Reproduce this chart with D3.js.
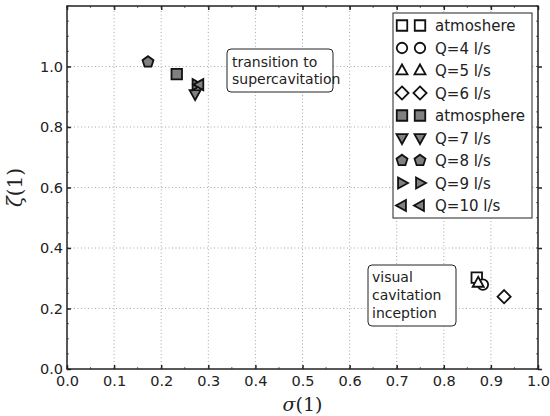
<!DOCTYPE html>
<html>
<head>
<meta charset="utf-8">
<script src="https://cdn.jsdelivr.net/npm/d3@7"></script>
<style>
  body { margin: 0; background: #fff; }
  text { font-family: "DejaVu Sans", sans-serif; fill: #222; }
</style>
</head>
<body>
<div id="chart"></div>
<script>
// series, in legend order
var names = ["atmoshere", "Q=4 l/s", "Q=5 l/s", "Q=6 l/s", "atmosphere", "Q=7 l/s", "Q=8 l/s", "Q=9 l/s", "Q=10 l/s"];
var shapes = ["square", "circle", "tri-up", "diamond", "square", "tri-down", "pentagon", "tri-right", "tri-left"];
var filled = [false, false, false, false, true, true, true, true, true];
var sigma = [0.870, 0.883, 0.873, 0.928, 0.233, 0.272, 0.172, 0.275, 0.281];
var zeta = [0.302, 0.279, 0.285, 0.239, 0.975, 0.909, 1.015, 0.940, 0.940];

var xTicks = [0.0, 0.1, 0.2, 0.3, 0.4, 0.5, 0.6, 0.7, 0.8, 0.9, 1.0];
var yTicks = [0.0, 0.2, 0.4, 0.6, 0.8, 1.0];

var width = 550, height = 416;
var margin = {top: 6, right: 12, bottom: 47, left: 67};

var svg = d3.select("#chart").append("svg")
  .attr("width", width)
  .attr("height", height);

var x = d3.scaleLinear().domain([0, 1]).range([margin.left, width - margin.right]);
var y = d3.scaleLinear().domain([0, 1.2]).range([height - margin.bottom, margin.top]);

// marker paths
function markerPath(shape, s) {
  var r = s / 2;
  if (shape == "square") return d3.symbol(d3.symbolSquare, s * s)();
  if (shape == "circle") return d3.symbol(d3.symbolCircle, Math.PI * r * r)();
  if (shape == "diamond") {
    var d = r * 1.25;
    return "M0," + (-d) + "L" + d + ",0L0," + d + "L" + (-d) + ",0Z";
  }
  if (shape == "pentagon") {
    var pts = d3.range(5).map(function(k) {
      var a = -Math.PI / 2 + k * 2 * Math.PI / 5;
      return [r * 1.1 * Math.cos(a), r * 1.1 * Math.sin(a)];
    });
    return "M" + pts.join("L") + "Z";
  }
  // triangles
  var rot = {"tri-up": 0, "tri-down": 180, "tri-right": 90, "tri-left": -90}[shape];
  var tp = [[0, -r * 1.15], [r * 1.05, r * 0.75], [-r * 1.05, r * 0.75]].map(function(p) {
    var a = rot * Math.PI / 180;
    return [p[0] * Math.cos(a) - p[1] * Math.sin(a), p[0] * Math.sin(a) + p[1] * Math.cos(a)];
  });
  return "M" + tp.join("L") + "Z";
}

// grid
svg.append("g").selectAll("line.gx")
  .data(xTicks.slice(1, -1))
  .enter().append("line")
  .attr("x1", function(d) { return x(d); })
  .attr("x2", function(d) { return x(d); })
  .attr("y1", y(0)).attr("y2", y(1.2))
  .attr("stroke", "#a8a8a8").attr("stroke-width", 1)
  .attr("stroke-dasharray", "1,2.5");

svg.append("g").selectAll("line.gy")
  .data(yTicks.slice(1))
  .enter().append("line")
  .attr("y1", function(d) { return y(d); })
  .attr("y2", function(d) { return y(d); })
  .attr("x1", x(0)).attr("x2", x(1))
  .attr("stroke", "#a8a8a8").attr("stroke-width", 1)
  .attr("stroke-dasharray", "1,2.5");

// axes, ticks pointing inward, mirrored on top and right
var minorX = d3.range(0, 1.0001, 0.05);
var minorY = d3.range(0, 1.2001, 0.05);

svg.append("g")
  .attr("transform", "translate(0," + y(0) + ")")
  .call(d3.axisBottom(x).tickValues(xTicks).tickFormat(d3.format(".1f")).tickSize(-4).tickPadding(7))
  .call(function(g) {
    g.select(".domain").remove();
    g.selectAll("text").attr("font-size", 14.5).attr("fill", "#222");
    g.selectAll("line").attr("stroke", "#222").attr("stroke-width", 1.5);
  });

svg.append("g")
  .attr("transform", "translate(" + x(0) + ",0)")
  .call(d3.axisLeft(y).tickValues(yTicks).tickFormat(d3.format(".1f")).tickSize(-4).tickPadding(4))
  .call(function(g) {
    g.select(".domain").remove();
    g.selectAll("text").attr("font-size", 14.5).attr("fill", "#222");
    g.selectAll("line").attr("stroke", "#222").attr("stroke-width", 1.5);
  });

svg.append("g")
  .attr("transform", "translate(0," + y(1.2) + ")")
  .call(d3.axisTop(x).tickValues(xTicks).tickFormat("").tickSize(-4))
  .call(function(g) {
    g.select(".domain").remove();
    g.selectAll("line").attr("stroke", "#222").attr("stroke-width", 1.5);
  });

svg.append("g")
  .attr("transform", "translate(" + x(1) + ",0)")
  .call(d3.axisRight(y).tickValues(yTicks).tickFormat("").tickSize(4))
  .call(function(g) {
    g.select(".domain").remove();
    g.selectAll("line").attr("stroke", "#222").attr("stroke-width", 1.5);
  });

// minor ticks
var minor = svg.append("g").attr("stroke", "#444").attr("stroke-width", 0.8);
minorX.forEach(function(v) {
  minor.append("line").attr("x1", x(v)).attr("x2", x(v)).attr("y1", y(0)).attr("y2", y(0) - 2);
  minor.append("line").attr("x1", x(v)).attr("x2", x(v)).attr("y1", y(1.2)).attr("y2", y(1.2) + 2);
});
minorY.forEach(function(v) {
  minor.append("line").attr("y1", y(v)).attr("y2", y(v)).attr("x1", x(0)).attr("x2", x(0) + 2);
  minor.append("line").attr("y1", y(v)).attr("y2", y(v)).attr("x1", x(1)).attr("x2", x(1) - 2);
});

// frame
svg.append("rect")
  .attr("x", x(0)).attr("y", y(1.2))
  .attr("width", x(1) - x(0)).attr("height", y(0) - y(1.2))
  .attr("fill", "none").attr("stroke", "#222").attr("stroke-width", 1.5);

// axis labels
svg.append("text")
  .attr("x", (x(0) + x(1)) / 2).attr("y", 411)
  .attr("text-anchor", "middle")
  .style("font-family", "'DejaVu Serif', serif")
  .attr("font-size", 19)
  .html("<tspan font-style='italic'>σ</tspan>(1)");

svg.append("text")
  .attr("transform", "translate(22," + ((y(0) + y(1.2)) / 2) + ") rotate(-90)")
  .attr("text-anchor", "middle")
  .style("font-family", "'DejaVu Serif', serif")
  .attr("font-size", 20)
  .html("<tspan font-style='italic'>ζ</tspan>(1)");

// annotations
function note(lines, bx, by, bw, bh, tx, ty0, lh) {
  svg.append("rect")
    .attr("x", bx).attr("y", by).attr("width", bw).attr("height", bh)
    .attr("rx", 4).attr("fill", "#fff").attr("stroke", "#222").attr("stroke-width", 1);
  lines.forEach(function(l, i) {
    svg.append("text").attr("x", tx).attr("y", ty0 + i * lh)
      .attr("font-size", 14).text(l);
  });
}
note(["transition to", "supercavitation"], 227, 49, 106, 43, 232, 67, 17);
note(["visual", "cavitation", "inception"], 368, 265, 88, 61, 372, 282, 18);

// points
svg.append("g").selectAll("path.pt")
  .data(names)
  .enter().append("path")
  .attr("class", "pt")
  .attr("d", function(d, i) { return markerPath(shapes[i], 10.5); })
  .attr("transform", function(d, i) { return "translate(" + x(sigma[i]) + "," + y(zeta[i]) + ")"; })
  .attr("fill", function(d, i) { return filled[i] ? "#808080" : "#fff"; })
  .attr("stroke", "#111").attr("stroke-width", 1.8);

// legend
var legend = svg.append("g");
legend.append("rect")
  .attr("x", 393).attr("y", 13).attr("width", 139).attr("height", 205)
  .attr("fill", "#fff").attr("stroke", "#222").attr("stroke-width", 1);

var rows = legend.selectAll("g.row")
  .data(names)
  .enter().append("g")
  .attr("transform", function(d, i) { return "translate(0," + (25.5 + i * 22.5) + ")"; });

[402, 420].forEach(function(mx) {
  rows.append("path")
    .attr("d", function(d, i) { return markerPath(shapes[i], 10.5); })
    .attr("transform", "translate(" + mx + ",0)")
    .attr("fill", function(d, i) { return filled[i] ? "#808080" : "#fff"; })
    .attr("stroke", "#111").attr("stroke-width", 1.8);
});

rows.append("text")
  .attr("x", 435).attr("y", 5.5)
  .attr("font-size", 15)
  .text(function(d) { return d; });
</script>
</body>
</html>
